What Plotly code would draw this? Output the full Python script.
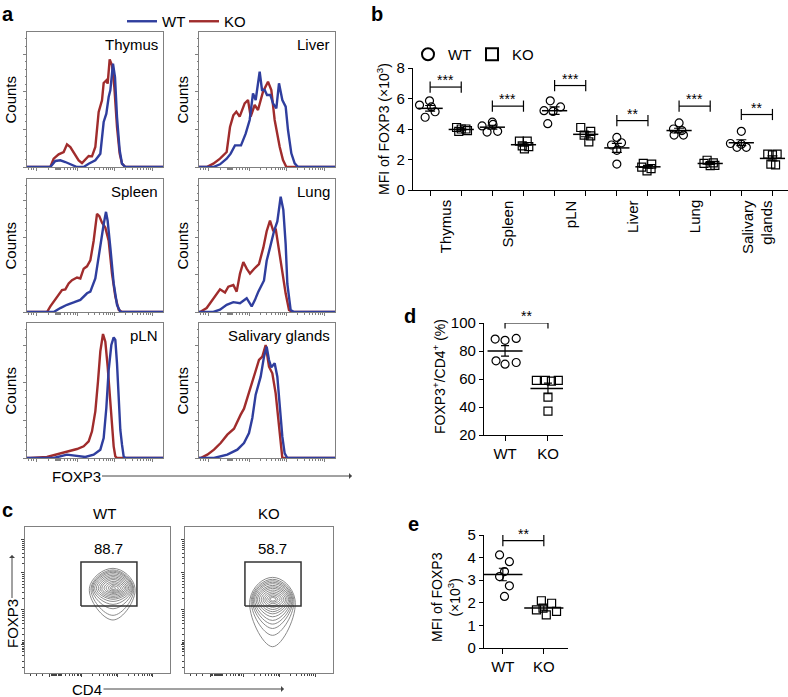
import numpy as np
import plotly.graph_objects as go

W, H = 788, 697
FONT = "Liberation Sans, Arial, Helvetica, sans-serif"
BLUE = "#2F3E9E"
RED = "#A02C2C"
FRAME = "#808080"
INK = "black"


def px(x):
    return x / W


def py(y):
    return 1 - y / H


# ================= Panel a: FOXP3 histograms (channel 0-408, counts) =================
hist_titles = ["Thymus", "Liver", "Spleen", "Lung", "pLN", "Salivary glands"]

thymus_wt_ch = [0, 70, 85, 100, 115, 130, 150, 170, 185, 205, 220, 230, 238, 245, 250, 258, 264, 270, 278, 285, 295, 408]
thymus_wt_ct = [0, 0, 18, 20, 15, 8, 0, 0, 10, 20, 40, 135, 160, 210, 230, 310, 270, 150, 50, 10, 0, 0]
thymus_ko_ch = [0, 60, 70, 80, 95, 110, 120, 130, 140, 155, 165, 175, 185, 195, 205, 215, 225, 230, 238, 242, 248, 255, 262, 270, 278, 285, 295, 408]
thymus_ko_ct = [0, 0, 0, 25, 38, 45, 68, 60, 45, 20, 12, 22, 33, 32, 60, 165, 200, 252, 260, 250, 323, 305, 240, 120, 40, 10, 0, 0]

liver_wt_ch = [0, 43, 63, 83, 95, 108, 126, 140, 152, 162, 170, 182, 189, 197, 204, 214, 222, 232, 240, 250, 260, 267, 277, 287, 297, 408]
liver_wt_ct = [0, 0, 8, 25, 40, 65, 65, 100, 141, 221, 201, 286, 231, 231, 216, 216, 191, 176, 251, 201, 181, 111, 41, 11, 0, 0]
liver_ko_ch = [0, 23, 43, 63, 83, 93, 103, 112, 122, 137, 147, 155, 167, 177, 192, 200, 207, 217, 227, 242, 252, 262, 408]
liver_ko_ct = [0, 0, 10, 25, 45, 120, 155, 166, 151, 191, 201, 151, 186, 171, 226, 241, 256, 231, 141, 61, 21, 0, 0]

spleen_wt_ch = [0, 80, 100, 120, 140, 160, 180, 190, 205, 220, 230, 237, 242, 250, 260, 270, 280, 408]
spleen_wt_ct = [0, 0, 12, 22, 29, 37, 57, 62, 102, 207, 267, 305, 277, 197, 87, 22, 0, 0]
spleen_ko_ch = [0, 60, 70, 85, 105, 115, 125, 135, 150, 160, 170, 180, 190, 200, 210, 217, 225, 235, 245, 255, 265, 275, 285, 408]
spleen_ko_ct = [0, 0, 17, 37, 67, 69, 87, 97, 105, 102, 132, 139, 157, 217, 299, 292, 272, 257, 217, 117, 47, 7, 0, 0]

lung_wt_ch = [0, 43, 63, 83, 103, 123, 143, 158, 168, 178, 195, 203, 213, 225, 235, 245, 253, 260, 265, 275, 285, 408]
lung_wt_ct = [0, 0, 7, 22, 30, 27, 42, 17, 37, 62, 96, 156, 196, 246, 276, 351, 311, 206, 86, 6, 0, 0]
lung_ko_ch = [0, 3, 23, 43, 63, 78, 88, 103, 113, 123, 133, 143, 153, 165, 180, 193, 203, 213, 223, 230, 240, 250, 260, 270, 280, 408]
lung_ko_ct = [0, 0, 12, 42, 69, 59, 77, 82, 62, 117, 152, 132, 117, 131, 146, 196, 246, 278, 246, 254, 186, 116, 56, 6, 0, 0]

pln_wt_ch = [0, 80, 120, 150, 175, 200, 220, 230, 238, 245, 253, 260, 265, 270, 275, 280, 285, 290, 295, 408]
pln_wt_ct = [0, 0, 10, 7, 3, 10, 25, 60, 150, 264, 339, 362, 354, 284, 184, 84, 40, 5, 0, 0]
pln_ko_ch = [0, 10, 60, 85, 110, 130, 150, 170, 185, 195, 205, 213, 220, 228, 235, 242, 250, 255, 260, 265, 270, 408]
pln_ko_ct = [0, 0, 3, 10, 17, 23, 27, 35, 50, 80, 140, 230, 320, 372, 349, 274, 174, 84, 35, 5, 0, 0]

sal_wt_ch = [0, 45, 85, 115, 135, 150, 160, 170, 185, 195, 203, 210, 217, 227, 235, 242, 250, 257, 265, 408]
sal_wt_ct = [0, 0, 10, 25, 45, 75, 120, 190, 244, 304, 334, 294, 272, 284, 244, 154, 64, 14, 0, 0]
sal_ko_ch = [0, 5, 25, 45, 65, 85, 105, 115, 125, 135, 145, 160, 173, 180, 190, 200, 210, 220, 230, 238, 245, 250, 408]
sal_ko_ct = [0, 0, 10, 25, 45, 70, 88, 110, 130, 148, 180, 234, 274, 294, 304, 339, 274, 254, 194, 114, 34, 0, 0]

# ================= Panel b: MFI of FOXP3 per tissue =================
b_tissues = ["Thymus", "Spleen", "pLN", "Liver", "Lung", "Salivary<br>glands"]
b_wt_values = [
    [5.57, 5.85, 4.77, 5.13, 5.45],
    [4.20, 4.45, 4.30, 3.80, 3.85],
    [5.85, 5.20, 5.15, 5.45, 4.35],
    [3.45, 2.95, 3.10, 2.60, 1.70],
    [4.40, 4.00, 3.90, 3.60, 3.60],
    [3.85, 3.05, 2.80, 2.80, 3.00],
]
b_ko_values = [
    [4.10, 4.00, 4.00, 3.85, 3.90],
    [3.20, 3.20, 2.90, 2.70, 2.85],
    [4.10, 3.85, 3.60, 3.55, 3.15],
    [1.75, 1.70, 1.50, 1.40, 1.25],
    [1.95, 1.75, 1.78, 1.60, 1.62],
    [2.35, 2.35, 1.70, 1.65, 2.30],
]
b_wt_jitter = [
    [-0.34, -0.02, -0.16, 0.16, 0.04],
    [-0.33, 0.00, 0.02, -0.17, 0.17],
    [-0.14, -0.34, -0.05, 0.19, -0.22],
    [0.00, -0.17, 0.15, 0.00, 0.00],
    [0.00, -0.18, 0.09, -0.16, 0.14],
    [0.00, -0.35, -0.14, 0.16, 0.00],
]
b_ko_jitter = [
    [-0.15, 0.00, 0.15, -0.08, 0.20],
    [-0.13, 0.12, -0.04, 0.03, 0.17],
    [-0.16, 0.16, -0.05, 0.16, 0.10],
    [-0.15, 0.12, -0.20, 0.10, -0.03],
    [-0.10, -0.20, 0.10, 0.00, 0.15],
    [-0.15, 0.15, -0.05, 0.10, 0.00],
]
b_sig_level = [6.75, 5.5, 6.85, 4.55, 5.5, 4.95]
b_sig_text = ["***", "***", "***", "**", "***", "**"]
b_yticks = [0, 2, 4, 6, 8]

# ================= Panel d: FOXP3+/CD4+ (%) =================
d_groups = ["WT", "KO"]
d_wt = [88.5, 87.6, 89.0, 73.0, 70.6, 71.8]
d_ko = [59.0, 59.0, 58.5, 59.0, 47.0, 37.0]
d_wt_jitter = [-0.23, 0.00, 0.26, -0.21, 0.00, 0.26]
d_ko_jitter = [-0.27, -0.06, 0.08, 0.24, 0.00, 0.00]
d_sig_level = 100
d_yticks = [20, 40, 60, 80, 100]

# ================= Panel e: MFI of FOXP3 =================
e_wt = [4.12, 3.82, 3.38, 3.16, 2.75, 2.28]
e_ko = [2.09, 1.98, 1.69, 1.47, 1.62, 1.76]
e_wt_jitter = [-0.08, 0.16, 0.04, -0.08, 0.16, 0.04]
e_ko_jitter = [-0.06, 0.19, -0.18, 0.06, 0.31, -0.02]
e_sig_level = 4.75
e_yticks = [0, 1, 2, 3, 4, 5]

# ================= Panel c: CD4 vs FOXP3 contour rings (channel 0-1000) =================
wt_core = (607, 580)
wt_ring_left = [444, 455, 462, 470, 480, 492, 505, 518, 530, 545, 560, 575, 588, 597]
wt_ring_right = [759, 750, 745, 740, 733, 725, 715, 705, 695, 685, 672, 660, 645, 625]
wt_ring_top = [717, 706, 698, 690, 680, 670, 660, 650, 640, 628, 618, 608, 598, 590]
wt_ring_bottom = [363, 395, 440, 470, 490, 505, 515, 525, 535, 545, 552, 560, 567, 573]
ko_core = (592, 505)
ko_ring_left = [439, 448, 455, 462, 470, 480, 490, 502, 515, 528, 540, 552, 565, 575]
ko_ring_right = [743, 735, 728, 722, 715, 708, 700, 690, 680, 668, 655, 642, 628, 615]
ko_ring_top = [655, 642, 632, 622, 612, 600, 590, 580, 568, 556, 545, 535, 525, 517]
ko_ring_bottom = [180, 258, 305, 335, 360, 385, 405, 420, 435, 450, 462, 475, 485, 493]
wt_gate = (386, 772, 459, 760)   # CD4 low, CD4 high, FOXP3 low, FOXP3 high
ko_gate = (405, 784, 459, 760)
gate_pct = ["88.7", "58.7"]

fig = go.Figure()
annotations = []
layout_axes = {}


def note(text, x, y, **kw):
    d = dict(text=text, xref="paper", yref="paper", x=x, y=y, xanchor="center",
             yanchor="middle", showarrow=False, font=dict(size=15))
    d.update(kw)
    annotations.append(d)


def ax_names(n):
    if n == 1:
        return "x", "y", "xaxis", "yaxis"
    return f"x{n}", f"y{n}", f"xaxis{n}", f"yaxis{n}"


def log_minor(majors):
    out = []
    for a, b in zip(majors[:-1], majors[1:]):
        for k in range(2, 10):
            out.append(a + np.log10(k) * (b - a))
    return out


# ---------- panel a layout ----------
hist_sets = [
    (thymus_wt_ch, thymus_wt_ct, thymus_ko_ch, thymus_ko_ct),
    (liver_wt_ch, liver_wt_ct, liver_ko_ch, liver_ko_ct),
    (spleen_wt_ch, spleen_wt_ct, spleen_ko_ch, spleen_ko_ct),
    (lung_wt_ch, lung_wt_ct, lung_ko_ch, lung_ko_ct),
    (pln_wt_ch, pln_wt_ct, pln_ko_ch, pln_ko_ct),
    (sal_wt_ch, sal_wt_ct, sal_ko_ch, sal_ko_ct),
]
col_px = [(27, 163), (199, 335)]
row_px = [(32, 167), (179, 312), (323, 458)]
h_xmaj = [27, 150, 262, 375]
h_xmin = log_minor(h_xmaj) + [88, 91, 94, 97, 100] + [5, 12, 18]
h_ymaj = [0, 113, 226, 339]
h_ymin = list(np.arange(0, 405, 22.6))

for i, (wch, wct, kch, kct) in enumerate(hist_sets):
    n = i + 1
    xa, ya, xk, yk = ax_names(n)
    r, c = i // 2, i % 2
    fig.add_trace(go.Scatter(x=kch, y=kct, mode="lines", line=dict(color=RED, width=2.4),
                             name="KO", legendrank=2, showlegend=(i == 0), hoverinfo="skip",
                             xaxis=xa, yaxis=ya))
    fig.add_trace(go.Scatter(x=wch, y=wct, mode="lines", line=dict(color=BLUE, width=2.4),
                             name="WT", legendrank=1, showlegend=(i == 0), hoverinfo="skip",
                             xaxis=xa, yaxis=ya))
    layout_axes[xk] = dict(domain=[px(col_px[c][0]), px(col_px[c][1])], range=[0, 408], anchor=ya,
                           showline=True, linecolor=FRAME, linewidth=1, mirror=True,
                           ticks="outside", ticklen=3, tickcolor=FRAME, tickvals=h_xmaj,
                           showticklabels=False, showgrid=False, zeroline=False,
                           minor=dict(tickvals=h_xmin, ticklen=2, ticks="outside", tickcolor=FRAME))
    layout_axes[yk] = dict(domain=[py(row_px[r][1]), py(row_px[r][0])], range=[0, 405], anchor=xa,
                           showline=True, linecolor=FRAME, linewidth=1, mirror=True,
                           ticks="outside", ticklen=3, tickcolor=FRAME, tickvals=h_ymaj,
                           showticklabels=False, showgrid=False, zeroline=False,
                           minor=dict(tickvals=h_ymin, ticklen=1.5, ticks="outside", tickcolor=FRAME))
    annotations.append(dict(text=hist_titles[i], xref=f"{xa} domain", yref=f"{ya} domain", x=1, y=1,
                            xanchor="right", yanchor="top", xshift=-3, yshift=-2, showarrow=False,
                            font=dict(size=15)))
    note("Counts", px(10 if c == 0 else 182), py((row_px[r][0] + row_px[r][1]) / 2), textangle=-90)

# FOXP3 axis label with its arrow (text sits at the arrow tail)
annotations.append(dict(text="FOXP3", xref="paper", yref="paper", x=px(352), y=py(476),
                        ax=-276, ay=0, showarrow=True, arrowhead=1, arrowsize=1, arrowwidth=1,
                        arrowcolor="#444", standoff=0, font=dict(size=15)))

# ---------- panel b ----------
def mean_sem(vals):
    v = np.asarray(vals, dtype=float)
    return v.mean(), v.std(ddof=1) / np.sqrt(len(v))


def add_group(xa, ya, pos, vals, jit, symbol, msize, mean_len, cap, legend=None, name=None):
    fig.add_trace(go.Scatter(x=[pos + j for j in jit], y=vals, mode="markers",
                             marker=dict(symbol=symbol, size=msize, color=INK, line=dict(width=1.2, color=INK)),
                             name=name, showlegend=legend is not None,
                             legend=legend if legend else "legend",
                             hoverinfo="skip", xaxis=xa, yaxis=ya))
    m, s = mean_sem(vals)
    fig.add_trace(go.Scatter(x=[pos], y=[m], mode="markers",
                             marker=dict(symbol="line-ew", size=mean_len, color=INK, line=dict(width=1.5, color=INK)),
                             error_y=dict(type="data", array=[s], symmetric=True, color=INK, thickness=1.2, width=cap),
                             showlegend=False, hoverinfo="skip", xaxis=xa, yaxis=ya))


def add_bracket(xa, ya, x0, x1, level, stars):
    fig.add_trace(go.Scatter(x=[x0, x1], y=[level, level], mode="lines+markers",
                             line=dict(color=INK, width=1.2),
                             marker=dict(symbol="line-ns", size=8, color=INK, line=dict(width=1.2, color=INK)),
                             showlegend=False, hoverinfo="skip", xaxis=xa, yaxis=ya))
    annotations.append(dict(text=stars, xref=xa, yref=ya, x=(x0 + x1) / 2, y=level, xanchor="center",
                            yanchor="bottom", yshift=-3, showarrow=False, font=dict(size=14)))


xa, ya, xk, yk = ax_names(7)
for g in range(6):
    add_group(xa, ya, 2 * g, b_wt_values[g], b_wt_jitter[g], "circle-open", 8, 18, 5,
              legend="legend2" if g == 0 else None, name="WT")
    add_group(xa, ya, 2 * g + 1, b_ko_values[g], b_ko_jitter[g], "square-open", 8, 18, 5,
              legend="legend2" if g == 0 else None, name="KO")
    add_bracket(xa, ya, 2 * g, 2 * g + 1, b_sig_level[g], b_sig_text[g])
    annotations.append(dict(text=b_tissues[g], xref=xa, yref="paper", x=2 * g + 0.5, y=py(198),
                            xanchor="center", yanchor="top", textangle=-90, align="right",
                            showarrow=False, font=dict(size=15)))
layout_axes[xk] = dict(domain=[px(413), 1.0], range=[-0.55, 11.5], anchor=ya, showline=True,
                       linecolor=INK, linewidth=1.3, ticks="outside", ticklen=5, tickwidth=1.3,
                       tickcolor=INK, tickvals=list(range(12)), showticklabels=False,
                       showgrid=False, zeroline=False)
layout_axes[yk] = dict(domain=[py(190), py(68)], range=[0, 8], anchor=xa, showline=True,
                       linecolor=INK, linewidth=1.3, ticks="outside", ticklen=4, tickwidth=1.3,
                       tickcolor=INK, tickvals=b_yticks, tickfont=dict(size=15),
                       showgrid=False, zeroline=False)
note("MFI of FOXP3 (×10<sup>3</sup>)", px(383), py(129), textangle=-90, font=dict(size=14))

# ---------- panel d ----------
xa, ya, xk, yk = ax_names(8)
add_group(xa, ya, 0, d_wt, d_wt_jitter, "circle-open", 8, 25, 4)
add_group(xa, ya, 1, d_ko, d_ko_jitter, "square-open", 8, 25, 4)
add_bracket(xa, ya, 0, 1, d_sig_level, "**")
layout_axes[xk] = dict(domain=[px(484), px(563)], range=[-0.49, 1.35], anchor=ya, showline=True,
                       linecolor=INK, linewidth=1.3, ticks="outside", ticklen=5, tickwidth=1.3,
                       tickcolor=INK, tickvals=[0, 1], ticktext=d_groups, tickfont=dict(size=15),
                       showgrid=False, zeroline=False)
layout_axes[yk] = dict(domain=[py(435), py(323)], range=[20, 100], anchor=xa, showline=True,
                       linecolor=INK, linewidth=1.3, ticks="outside", ticklen=4, tickwidth=1.3,
                       tickcolor=INK, tickvals=d_yticks, tickfont=dict(size=15),
                       showgrid=False, zeroline=False)
note("FOXP3<sup>+</sup>/CD4<sup>+</sup> (%)", px(439), py(377), textangle=-90, font=dict(size=14))

# ---------- panel e ----------
xa, ya, xk, yk = ax_names(9)
add_group(xa, ya, 0, e_wt, e_wt_jitter, "circle-open", 8, 28, 4)
add_group(xa, ya, 1, e_ko, e_ko_jitter, "square-open", 8, 28, 4)
add_bracket(xa, ya, 0, 1, e_sig_level, "**")
layout_axes[xk] = dict(domain=[px(484), px(568)], range=[-0.46, 1.59], anchor=ya, showline=True,
                       linecolor=INK, linewidth=1.3, ticks="outside", ticklen=5, tickwidth=1.3,
                       tickcolor=INK, tickvals=[0, 1], ticktext=d_groups, tickfont=dict(size=15),
                       showgrid=False, zeroline=False)
layout_axes[yk] = dict(domain=[py(648), py(535)], range=[0, 5], anchor=xa, showline=True,
                       linecolor=INK, linewidth=1.3, ticks="outside", ticklen=4, tickwidth=1.3,
                       tickcolor=INK, tickvals=e_yticks, tickfont=dict(size=15),
                       showgrid=False, zeroline=False)
note("MFI of FOXP3<br>(×10<sup>3</sup>)", px(446), py(597), textangle=-90, font=dict(size=14))

# ---------- panel c ----------
c_xmaj = [172, 393, 640, 880]
c_xmin = log_minor(c_xmaj) + [180, 188, 196, 204, 212, 220, 228, 236, 244, 252] + [40, 80, 120]
c_ymaj = [192, 432, 685, 911]
c_ymin = log_minor(c_ymaj) + [150, 160, 170, 180, 200, 210, 220] + [40, 80, 120]
c_sets = [
    (10, (25, 170), wt_core, wt_ring_left, wt_ring_right, wt_ring_top, wt_ring_bottom, wt_gate, gate_pct[0], "WT"),
    (11, (185, 333), ko_core, ko_ring_left, ko_ring_right, ko_ring_top, ko_ring_bottom, ko_gate, gate_pct[1], "KO"),
]
for n, (x0p, x1p), core, rl, rr, rt, rb, gate, pct, lab in c_sets:
    xa, ya, xk, yk = ax_names(n)
    cx, cy = core
    for L, R, T, B in zip(rl, rr, rt, rb):
        fig.add_trace(go.Scatter(x=[L, cx, R, cx, L], y=[cy, T, cy, B, cy], mode="lines",
                                 line=dict(color="#7d7d7d", width=0.9, shape="spline", smoothing=1.3),
                                 showlegend=False, hoverinfo="skip", xaxis=xa, yaxis=ya))
    gl, gr, gb, gt = gate
    fig.add_trace(go.Scatter(x=[gl, gr, gr, gl, gl], y=[gb, gb, gt, gt, gb], mode="lines",
                             line=dict(color="#333333", width=1.5), showlegend=False,
                             hoverinfo="skip", xaxis=xa, yaxis=ya))
    annotations.append(dict(text=pct, xref=xa, yref=ya, x=(gl + gr) / 2, y=gt, xanchor="center",
                            yanchor="bottom", yshift=3, showarrow=False, font=dict(size=15)))
    annotations.append(dict(text=lab, xref=xa, yref="paper", x=(gl + gr) / 2 - 30, y=py(513),
                            xanchor="center", yanchor="middle", showarrow=False, font=dict(size=15)))
    layout_axes[xk] = dict(domain=[px(x0p), px(x1p)], range=[0, 1000], anchor=ya, showline=True,
                           linecolor=FRAME, linewidth=1, mirror=True, ticks="outside", ticklen=3,
                           tickcolor="#444", tickvals=c_xmaj, showticklabels=False, showgrid=False,
                           zeroline=False,
                           minor=dict(tickvals=c_xmin, ticklen=2, ticks="outside", tickcolor="#444"))
    layout_axes[yk] = dict(domain=[py(673), py(527)], range=[0, 1000], anchor=xa, showline=True,
                           linecolor=FRAME, linewidth=1, mirror=True, ticks="outside", ticklen=3,
                           tickcolor="#444", tickvals=c_ymaj, showticklabels=False, showgrid=False,
                           zeroline=False,
                           minor=dict(tickvals=c_ymin, ticklen=2, ticks="outside", tickcolor="#444"))

# FOXP3 (vertical) and CD4 axis labels with arrows
annotations.append(dict(text="FOXP3", xref="paper", yref="paper", x=px(12), y=py(555),
                        ax=0, ay=69, textangle=-90, showarrow=True, arrowhead=1, arrowsize=1,
                        arrowwidth=1, arrowcolor="#444", standoff=0, font=dict(size=15)))
annotations.append(dict(text="CD4", xref="paper", yref="paper", x=px(284), y=py(689),
                        ax=-197, ay=0, showarrow=True, arrowhead=1, arrowsize=1, arrowwidth=1,
                        arrowcolor="#444", standoff=0, font=dict(size=15)))

# ---------- panel letters ----------
for letter, (lx, ly) in zip("abcde", [(8, 14), (377, 14), (7, 510), (410, 316), (413, 524)]):
    note(f"<b>{letter}</b>", px(lx), py(ly), font=dict(size=20))

fig.update_layout(
    width=W, height=H, margin=dict(l=0, r=0, t=0, b=0, pad=0, autoexpand=False),
    paper_bgcolor="white", plot_bgcolor="rgba(0,0,0,0)",
    font=dict(family=FONT, size=15, color=INK),
    annotations=annotations,
    legend=dict(orientation="h", x=px(122), y=py(5), xanchor="left", yanchor="top",
                font=dict(size=15), bgcolor="rgba(0,0,0,0)", traceorder="normal",
                entrywidth=17, entrywidthmode="pixels"),
    legend2=dict(orientation="h", x=px(408), y=py(38), xanchor="left", yanchor="top",
                 font=dict(size=15), bgcolor="rgba(0,0,0,0)", itemsizing="constant",
                 entrywidth=19, entrywidthmode="pixels"),
    showlegend=True,
    **layout_axes,
)

fig.write_html("out.html", config={"displayModeBar": False},
               post_script="document.body.style.margin='0px';")
